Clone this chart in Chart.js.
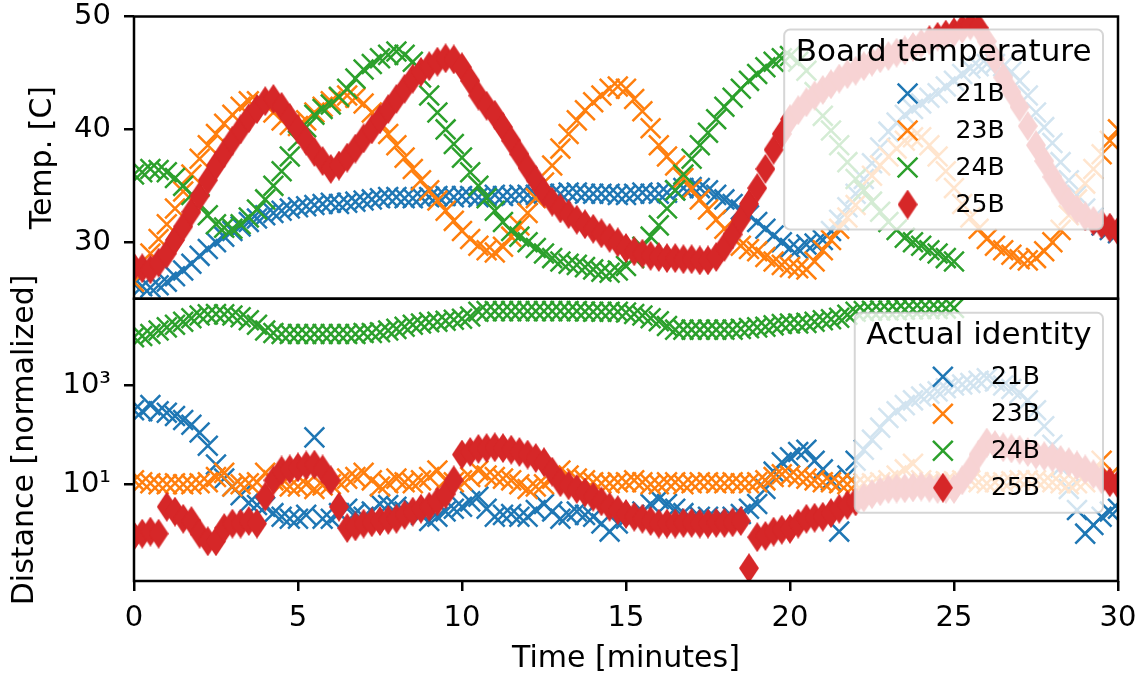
<!DOCTYPE html>
<html>
<head>
<meta charset="utf-8">
<script src="https://cdn.jsdelivr.net/npm/chart.js@4"></script>
<style>
  body { margin: 0; background: #fff; }
  #wrap { width: 1141px; height: 677px; }
</style>
</head>
<body>
<div id="wrap"><canvas id="boardChart" width="1141" height="677"></canvas></div>
<script>
// sample times, one every quarter minute
const minutes = [0, 0.25, 0.5, 0.75, 1, 1.25, 1.5, 1.75, 2, 2.25,
  2.5, 2.75, 3, 3.25, 3.5, 3.75, 4, 4.25, 4.5, 4.75,
  5, 5.25, 5.5, 5.75, 6, 6.25, 6.5, 6.75, 7, 7.25,
  7.5, 7.75, 8, 8.25, 8.5, 8.75, 9, 9.25, 9.5, 9.75,
  10, 10.25, 10.5, 10.75, 11, 11.25, 11.5, 11.75, 12, 12.25,
  12.5, 12.75, 13, 13.25, 13.5, 13.75, 14, 14.25, 14.5, 14.75,
  15, 15.25, 15.5, 15.75, 16, 16.25, 16.5, 16.75, 17, 17.25,
  17.5, 17.75, 18, 18.25, 18.5, 18.75, 19, 19.25, 19.5, 19.75,
  20, 20.25, 20.5, 20.75, 21, 21.25, 21.5, 21.75, 22, 22.25,
  22.5, 22.75, 23, 23.25, 23.5, 23.75, 24, 24.25, 24.5, 24.75,
  25, 25.25, 25.5, 25.75, 26, 26.25, 26.5, 26.75, 27, 27.25,
  27.5, 27.75, 28, 28.25, 28.5, 28.75, 29, 29.25, 29.5, 29.75,
  30];

const boards = ['21B', '23B', '24B', '25B'];

// board temperature [C]
const temp21B = [26.3, 26.1, 26.0, 26.2, 26.5, 27.0, 27.5, 28.1, 28.8, 29.4,
  30.0, 30.5, 31.0, 31.4, 31.8, 32.1, 32.4, 32.6, 32.8, 33.0,
  33.1, 33.2, 33.3, 33.4, 33.5, 33.4, 33.5, 33.6, 33.7, 33.8,
  33.9, 34.0, 34.0, 33.9, 33.9, 34.0, 34.0, 34.1, 34.1, 34.0,
  34.1, 34.1, 34.0, 34.1, 34.2, 34.1, 34.1, 34.2, 34.2, 34.2,
  34.3, 34.3, 34.3, 34.4, 34.4, 34.3, 34.3, 34.3, 34.3, 34.2,
  34.2, 34.3, 34.4, 34.3, 34.3, 34.4, 34.6, 34.8, 34.9, 34.8,
  34.6, 34.2, 33.8, 33.4, 32.9, 32.4, 31.8, 31.2, 30.6, 30.0,
  29.5, 29.4, 29.8, 29.9, 30.2, 31.0, 32.0, 33.1, 34.3, 35.6,
  37.0, 38.4, 39.8, 40.6, 41.3, 41.8, 42.3, 42.8, 43.2, 43.8,
  44.3, 44.9, 45.4, 45.6, 45.8, 45.8, 45.6, 45.1, 44.3, 43.0,
  41.5, 40.2, 38.8, 37.1, 35.5, 34.2, 33.0, 32.2, 31.5, 31.1,
  30.8];
const temp23B = [26.5, 27.7, 29.0, 30.3, 31.6, 33.0, 34.5, 36.0, 37.4, 38.6,
  39.6, 40.5, 41.3, 42.0, 42.5, 42.5, 42.2, 41.5, 40.8, 40.4,
  40.3, 40.8, 41.5, 42.0, 42.5, 42.8, 43.0, 42.8, 42.3, 41.5,
  40.6, 39.6, 38.6, 37.5, 36.5, 35.5, 34.6, 33.7, 32.8, 31.9,
  31.0, 30.3, 29.7, 29.3, 29.1, 29.6, 30.5, 31.5, 32.6, 33.9,
  35.3, 36.8, 38.3, 39.6, 40.8, 41.7, 42.4, 43.0, 43.6, 43.8,
  43.6, 42.7, 41.6, 40.1, 38.6, 37.6, 36.8, 35.7, 34.7, 33.8,
  32.9, 32.0, 31.2, 30.4, 29.7, 29.4, 29.2, 28.7, 28.3, 28.0,
  27.8, 27.7, 27.6, 28.3, 29.3, 30.2, 31.2, 32.2, 33.3, 34.6,
  35.9, 36.8, 37.6, 38.3, 39.0, 39.3, 39.3, 38.6, 37.6, 36.3,
  34.8, 33.4, 32.2, 31.2, 30.3, 29.7, 29.3, 28.9, 28.5, 28.4,
  28.6, 29.2, 30.0, 31.1, 32.4, 33.8, 35.2, 36.5, 37.8, 39.0,
  40.0];
const temp24B = [36.0, 36.2, 36.5, 36.4, 36.2, 35.7, 35.0, 34.2, 33.4, 32.4,
  31.6, 31.3, 31.2, 31.6, 32.2, 32.9, 33.8, 35.0, 36.3, 37.6,
  39.0, 40.2, 41.3, 41.8, 42.2, 42.9, 43.6, 44.5, 45.3, 45.8,
  46.3, 46.6, 46.9, 46.6, 46.0, 44.6, 43.0, 41.5, 40.0, 38.7,
  37.5, 36.2, 35.0, 33.9, 32.8, 31.8, 31.0, 30.5, 30.0, 29.5,
  29.0, 28.6, 28.3, 28.1, 28.0, 27.8, 27.6, 27.4, 27.3, 27.5,
  27.9, 28.6, 29.6, 30.5, 31.5, 33.0, 34.6, 36.0, 37.4, 38.6,
  39.7, 40.9, 42.0, 42.8, 43.6, 44.3, 44.9, 45.5, 46.0, 46.3,
  46.5, 46.0, 45.2, 43.3, 41.2, 39.9, 38.6, 37.1, 35.6, 34.6,
  33.6, 32.7, 31.8, 31.1, 30.4, 30.0, 29.7, 29.3, 29.0, 28.6,
  28.3];
const temp25B = [27.8, 27.7, 27.6, 28.2, 29.0, 30.2, 31.4, 32.7, 34.1, 35.5,
  36.8, 37.9, 39.0, 40.0, 41.0, 41.8, 42.5, 42.7, 42.0, 41.0,
  40.0, 39.0, 38.0, 37.2, 36.5, 36.8, 37.5, 38.3, 39.2, 40.0,
  40.9, 41.8, 42.7, 43.6, 44.5, 45.1, 45.6, 46.0, 46.3, 46.2,
  45.5, 44.3, 43.0, 42.1, 41.3, 40.2, 39.0, 37.8, 36.6, 35.5,
  34.4, 33.6, 33.0, 32.5, 32.0, 31.6, 31.2, 30.8, 30.4, 30.0,
  29.5, 29.2, 29.0, 28.8, 28.7, 28.6, 28.6, 28.5, 28.5, 28.4,
  28.4, 28.7, 29.6, 30.7, 32.0, 33.4, 34.8, 36.5, 38.2, 39.6,
  40.9, 41.7, 42.4, 43.0, 43.5, 44.0, 44.5, 44.9, 45.2, 45.6,
  46.0, 46.3, 46.5, 46.8, 47.0, 47.3, 47.6, 47.9, 48.2, 48.4,
  48.6, 48.9, 49.2, 49.0, 47.8, 46.2, 44.6, 43.3, 42.0, 40.3,
  38.6, 37.2, 35.8, 34.6, 33.6, 32.9, 32.3, 31.9, 31.6, 31.3,
  31.0];

// distance to actual identity [normalized]
const dist21B = [316, 300, 400, 300, 280, 240, 200, 160, 112, 60,
  25, 13, 9, 6, 4.2, 3.8, 3.5, 2.6, 2.2, 2.0,
  2.0, 2.4, 89, 2.0, 2.0, 2.6, 3.2, 2.6, 2.2, 2.8,
  4.0, 3.8, 3.5, 2.8, 3.2, 2.4, 1.8, 2.2, 2.8, 3.2,
  3.5, 4.5, 5.6, 3.2, 2.2, 2.4, 2.5, 2.2, 2.2, 3.0,
  4.0, 2.8, 2.0, 2.4, 2.8, 2.4, 2.2, 1.6, 1.1, 1.6,
  2.0, 2.4, 2.8, 4.0, 5.0, 4.0, 3.2, 2.6, 2.0, 2.2,
  2.2, 2.0, 2.0, 2.2, 2.5, 3.2, 4.0, 8, 18, 28,
  35, 45, 50, 30, 20, 12, 1.1, 15, 30, 50,
  80, 140, 220, 300, 400, 500, 600, 680, 760, 880,
  1000, 1050, 1120, 1250, 1400, 1200, 1000, 850, 700, 500,
  316, 150, 63, 22, 8, 3, 1.0, 1.5, 2.2, 2.8,
  3.2];
const dist23B = [12, 11, 10.5, 10, 10, 10.5, 10, 10, 10.5, 11,
  14, 17, 9, 10, 10.5, 11, 17, 12, 10, 9,
  9, 10, 8, 9.5, 10, 11, 13, 14, 17, 12,
  9, 10.5, 13, 11, 10.5, 12, 14, 19, 12, 11,
  12, 14, 19, 15, 14, 13, 12, 10, 8, 9,
  10, 13, 19, 15, 13, 12, 11, 10.5, 10.5, 11,
  11, 12, 11, 10, 10, 11, 11, 10, 10.5, 11,
  11, 10.5, 10.5, 11, 10.5, 10.5, 11, 12, 14, 16,
  15, 14, 13, 12, 11, 11, 10.5, 10, 10, 10.5,
  10.5, 11, 12, 15, 20, 26, 12, 11, 11, 11.5,
  11.5, 12, 12, 11, 10.5, 11, 11, 11.5, 12, 12,
  12, 11.5, 11, 10.5, 10, 10.5, 11, 18, 30, 15,
  12];
const dist24B = [9500, 10000, 11000, 13000, 15000, 17000, 19500, 23000, 26000, 27500,
  28000, 27500, 26000, 24000, 21000, 17000, 13000, 11500, 11000, 11000,
  11000, 11000, 11000, 11000, 11000, 11000, 11000, 11000, 11500, 11500,
  12000, 13000, 14000, 15500, 17000, 18000, 19000, 19500, 20500, 21500,
  22500, 25000, 31000, 32000, 32000, 32000, 32000, 32000, 32000, 32000,
  32000, 32000, 32000, 32000, 32000, 31500, 31000, 31000, 31000, 31000,
  30000, 28000, 26000, 23000, 20000, 16000, 13500, 13500, 13500, 13500,
  13500, 13500, 13500, 13500, 14000, 14500, 15000, 15500, 16500, 17500,
  18000, 18000, 18500, 19500, 21000, 22000, 23500, 27000, 31000, 32000,
  32500, 33000, 33000, 33500, 34000, 34500, 35000, 35000, 35500, 36000,
  37000];
const dist25B = [0.9, 1.0, 1.1, 1.0, 3.5, 2.8, 2.0, 1.8, 1.0, 0.7,
  0.7, 1.3, 1.6, 1.6, 1.8, 1.6, 5.6, 12, 19, 20,
  22, 24, 25, 20, 12, 3.5, 1.3, 1.4, 1.6, 1.7,
  1.8, 1.9, 2.0, 2.4, 2.8, 3.2, 3.5, 4.5, 6.3, 12,
  40, 45, 52, 54, 56, 54, 50, 45, 40, 34,
  28, 18, 11, 9.5, 8, 6.8, 5.6, 4.5, 3.5, 3.0,
  2.5, 2.2, 2.0, 1.8, 1.6, 1.6, 1.6, 1.65, 1.65, 1.6,
  1.6, 1.65, 1.65, 1.7, 1.8, 0.2, 0.85, 0.9, 1.1, 1.2,
  1.25, 1.6, 2.0, 2.1, 2.2, 2.6, 3.2, 3.8, 4.5, 5.4,
  6.3, 7.2, 8, 8.2, 8.3, 8.6, 9, 8.5, 8, 8,
  8, 12, 20, 40, 70, 62, 56, 53, 50, 45,
  40, 37, 35, 31, 28, 24, 20, 16, 12.6, 11,
  10];

const timeTicks = [0, 5, 10, 15, 20, 25, 30];
const tempTicks = [30, 40, 50];
const distTicks = [10, 1000];
const distTickLabels = ['10\u00b9', '10\u00b3'];

const colors = { '21B': '#1f77b4', '23B': '#ff7f0e', '24B': '#2ca02c', '25B': '#d62728' };

// matplotlib style thin diamond
function thinDiamond(color, w, h) {
    const c = document.createElement('canvas');
    c.width = w;
    c.height = h;
    const g = c.getContext('2d');
    g.fillStyle = color;
    g.beginPath();
    g.moveTo(w / 2, 0);
    g.lineTo(w, h / 2);
    g.lineTo(w / 2, h);
    g.lineTo(0, h / 2);
    g.closePath();
    g.fill();
    return c;
}
const diamondMark = thinDiamond(colors['25B'], 20, 30);

function series(label, values, axis) {
    const color = colors[label];
    const diamond = label === '25B';
    return {
        label: label,
        yAxisID: axis,
        order: 3 - boards.indexOf(label),
        data: values.map((v, i) => ({ x: minutes[i], y: v })),
        showLine: false,
        pointStyle: diamond ? diamondMark : 'crossRot',
        pointRadius: 14,
        pointHoverRadius: 14,
        pointBorderWidth: diamond ? 0 : 2.5,
        pointBorderColor: color,
        pointBackgroundColor: color
    };
}

function drawMarker(ctx, ds, x, y) {
    if (ds.pointStyle === 'crossRot') {
        const r = ds.pointRadius * Math.SQRT1_2;
        ctx.strokeStyle = ds.pointBorderColor;
        ctx.lineWidth = ds.pointBorderWidth;
        ctx.beginPath();
        ctx.moveTo(x - r, y - r); ctx.lineTo(x + r, y + r);
        ctx.moveTo(x - r, y + r); ctx.lineTo(x + r, y - r);
        ctx.stroke();
    } else {
        const img = ds.pointStyle;
        ctx.drawImage(img, x - img.width / 2, y - img.height / 2);
    }
}

const panelFrames = {
    id: 'panelFrames',
    afterDatasetsDraw(chart) {
        const { ctx, chartArea } = chart;
        ctx.save();
        ctx.strokeStyle = '#000';
        ctx.lineWidth = 2.5;
        ['yT', 'yD'].forEach(id => {
            const s = chart.scales[id];
            ctx.strokeRect(chartArea.left, s.top, chartArea.right - chartArea.left, s.bottom - s.top);
        });
        ctx.restore();
    },
    afterDraw(chart) {
        const { ctx, chartArea } = chart;
        // y axis titles (drawn by hand so the long one is not squeezed)
        [['yT', 'Temp. [C]', 43], ['yD', 'Distance [normalized]', 25]].forEach(([id, text, x]) => {
            const s = chart.scales[id];
            ctx.save();
            ctx.translate(x, (s.top + s.bottom) / 2);
            ctx.rotate(-Math.PI / 2);
            ctx.font = '30px "DejaVu Sans"';
            ctx.fillStyle = '#000';
            ctx.textAlign = 'center';
            ctx.textBaseline = 'middle';
            ctx.fillText(text, 0, 0);
            ctx.restore();
        });
        // one legend box per panel
        [['yT', 'Board temperature', 13], ['yD', 'Actual identity', 14]].forEach(([id, title, gap]) => {
            const s = chart.scales[id];
            const sets = chart.data.datasets.filter(ds => ds.yAxisID === id);
            ctx.save();
            ctx.font = '31px "DejaVu Sans"';
            const boxW = ctx.measureText(title).width + 23;
            const boxH = 200;
            const right = chartArea.right - 15;
            const top = s.top + gap;
            const left = right - boxW;
            const r = 6;
            ctx.beginPath();
            ctx.moveTo(left + r, top);
            ctx.arcTo(right, top, right, top + boxH, r);
            ctx.arcTo(right, top + boxH, left, top + boxH, r);
            ctx.arcTo(left, top + boxH, left, top, r);
            ctx.arcTo(left, top, right, top, r);
            ctx.closePath();
            ctx.fillStyle = 'rgba(255,255,255,0.8)';
            ctx.fill();
            ctx.strokeStyle = 'rgba(204,204,204,0.8)';
            ctx.lineWidth = 2;
            ctx.stroke();
            const cx = left + boxW / 2;
            ctx.fillStyle = '#000';
            ctx.textAlign = 'center';
            ctx.textBaseline = 'middle';
            ctx.fillText(title, cx, top + 23);
            ctx.font = '25px "DejaVu Sans"';
            ctx.textAlign = 'left';
            sets.forEach((ds, i) => {
                const y = top + 64 + i * 37;
                drawMarker(ctx, ds, cx - 36, y);
                ctx.fillStyle = '#000';
                ctx.fillText(ds.label, cx + 12, y + 1);
            });
            ctx.restore();
        });
    }
};

Chart.defaults.font.family = '"DejaVu Sans"';
Chart.defaults.color = '#000';

const tickGrid = { drawOnChartArea: false, tickLength: 10, color: '#000', lineWidth: 2.5 };

new Chart(document.getElementById('boardChart'), {
    type: 'scatter',
    data: {
        datasets: [
            series('21B', temp21B, 'yT'),
            series('23B', temp23B, 'yT'),
            series('24B', temp24B, 'yT'),
            series('25B', temp25B, 'yT'),
            series('21B', dist21B, 'yD'),
            series('23B', dist23B, 'yD'),
            series('24B', dist24B, 'yD'),
            series('25B', dist25B, 'yD')
        ]
    },
    options: {
        responsive: false,
        animation: false,
        layout: { padding: { left: 0, right: 23, top: 15, bottom: 0 } },
        plugins: { legend: { display: false }, tooltip: { enabled: false } },
        scales: {
            x: {
                type: 'linear', position: 'bottom', min: 0, max: 30,
                afterBuildTicks: s => { s.ticks = timeTicks.map(v => ({ value: v })); },
                afterFit: s => { s.height = 96; s.paddingLeft = 0; s.paddingRight = 0; },
                ticks: { font: { size: 29 }, color: '#000', padding: 10, maxRotation: 0 },
                grid: tickGrid,
                border: { display: false },
                title: { display: true, text: 'Time [minutes]', font: { size: 30 }, color: '#000', padding: { top: 0, bottom: 0 } }
            },
            yT: {
                type: 'linear', position: 'left', stack: 'panels', stackWeight: 1, weight: 1,
                min: 25, max: 50,
                afterBuildTicks: s => { s.ticks = tempTicks.map(v => ({ value: v })); },
                afterFit: s => { s.width = 134; s.paddingTop = 0; s.paddingBottom = 0; },
                ticks: { font: { size: 29 }, color: '#000', padding: 13 },
                grid: tickGrid,
                border: { display: false }
            },
            yD: {
                type: 'logarithmic', position: 'left', stack: 'panels', stackWeight: 1, weight: 0,
                min: 0.11, max: 57000,
                afterBuildTicks: s => { s.ticks = distTicks.map(v => ({ value: v })); },
                afterFit: s => { s.width = 134; s.paddingTop = 0; s.paddingBottom = 0; },
                ticks: {
                    font: { size: 29 }, color: '#000', padding: 13,
                    callback: v => distTickLabels[distTicks.indexOf(v)]
                },
                grid: tickGrid,
                border: { display: false }
            }
        }
    },
    plugins: [panelFrames]
});
</script>
</body>
</html>
